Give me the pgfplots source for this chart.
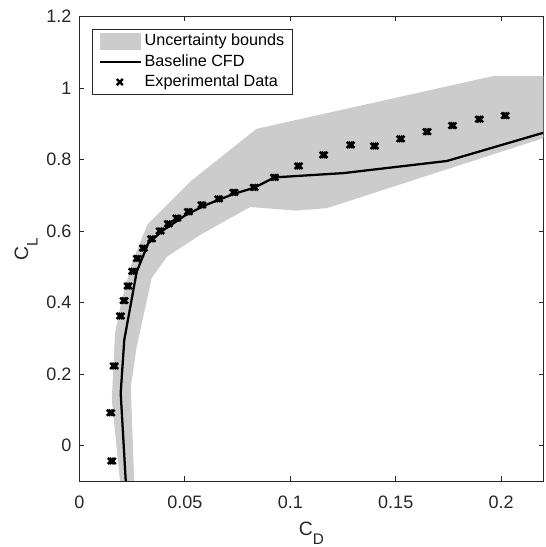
\documentclass[border=0pt]{standalone}
\usepackage{fontspec}
\setmainfont{Liberation Sans}
\usepackage{pgfplots}
\usepackage{pgfplotstable}
\pgfplotsset{compat=1.18}
\definecolor{bandgray}{RGB}{204,204,204}
\definecolor{axgray}{RGB}{38,38,38}
\newcommand\lowsub[1]{\raisebox{-7.2pt}{\fontsize{11.5}{12}\selectfont #1}}

\pgfplotstableread{
cd      cl
0.0154 -0.044
0.0149  0.091
0.0165  0.222
0.0195  0.362
0.0212  0.405
0.0231  0.446
0.0253  0.487
0.0275  0.523
0.0304  0.552
0.0343  0.578
0.0383  0.600
0.0422  0.620
0.0462  0.636
0.0517  0.654
0.0581  0.673
0.0660  0.690
0.0733  0.708
0.0829  0.722
0.0925  0.750
0.1039  0.782
0.1158  0.813
0.1286  0.841
0.1399  0.838
0.1523  0.858
0.1648  0.878
0.1769  0.895
0.1896  0.913
0.2019  0.923
}\expdata

\begin{document}
\fontsize{13.5}{16}\selectfont
\begin{tikzpicture}
\begin{axis}[
  scale only axis,
  width=348pt, height=348.2pt,
  xmin=0, xmax=0.22, ymin=-0.1, ymax=1.2,
  xtick={0,0.05,0.1,0.15,0.2},
  xticklabels={0,0.05,0.1,0.15,0.2},
  ytick={0,0.2,0.4,0.6,0.8,1,1.2},
  yticklabels={0,0.2,0.4,0.6,0.8,1,1.2},
  tick align=inside,
  major tick length=3.6pt,
  axis line style={draw=axgray, line width=0.5pt},
  every tick/.style={draw=axgray, line width=0.5pt},
  ticklabel style={text=axgray, font=\fontsize{13.5}{16}\selectfont},
  xticklabel style={yshift=-6.5pt},
  yticklabel style={xshift=-1.2pt},
  xlabel={C\lowsub{D}},
  ylabel={C\lowsub{L}},
  label style={text=axgray, font=\fontsize{14.5}{16}\selectfont},
  xlabel style={at={(axis description cs:0.5,-0.1164)}, anchor=base},
  ylabel style={at={(axis description cs:-0.1106,0.5)}, anchor=base},
  legend cell align=left,
  legend style={
    at={(axis description cs:0.028,0.973)}, anchor=north west,
    draw=axgray, line width=0.5pt, fill=white,
    font=\fontsize{12.15}{14}\selectfont, text=black,
    inner xsep=4.8pt, inner ysep=2.5pt,
    nodes={inner sep=1pt}, column sep=0.75pt, row sep=2.4pt,
  },
]
% uncertainty band
\addplot[fill=bandgray, draw=none,
  legend image code/.code={\fill[bandgray] (0pt,-6.4pt) rectangle (30.75pt,6.4pt);}]
  coordinates {
  (0.0193,-0.1) (0.0154,0.127) (0.0169,0.314) (0.0201,0.407) (0.0249,0.510)
  (0.0323,0.618) (0.0525,0.738) (0.0840,0.886) (0.1964,1.034) (0.2200,1.034)
  (0.2200,0.860) (0.1174,0.664) (0.1031,0.657) (0.0810,0.667) (0.0573,0.589)
  (0.0415,0.528) (0.0343,0.468) (0.0272,0.276) (0.0244,0.164) (0.0260,-0.1)
  } -- cycle;
\addlegendentry{Uncertainty bounds}
% baseline CFD
\addplot[black, line width=1.7pt, no marks,
  legend image code/.code={\draw[black, line width=1.7pt] (0pt,0pt) -- (30.75pt,0pt);}]
  coordinates {
  (0.0220,-0.1) (0.0196,0.146) (0.0213,0.295) (0.0272,0.486) (0.0327,0.566)
  (0.0400,0.603) (0.0500,0.643) (0.0600,0.673) (0.0733,0.704) (0.0829,0.721)
  (0.0925,0.750) (0.1252,0.762) (0.1743,0.796) (0.2200,0.875)
  };
\addlegendentry{Baseline CFD}
% experimental data (two slightly offset passes give the heavy marker look)
\addplot[only marks, mark=x, mark size=3.2pt, line width=1.8pt, black,
  mark options={xshift=-0.7pt},
  legend image code/.code={\draw[black, line width=1.8pt, mark=x, mark size=3.2pt] plot[only marks] coordinates {(15.4pt,0pt)};}]
  table[x=cd, y=cl] {\expdata};
\addlegendentry{Experimental Data}
\addplot[only marks, mark=x, mark size=3.2pt, line width=1.8pt, black,
  mark options={xshift=0.7pt}, forget plot]
  table[x=cd, y=cl] {\expdata};
\end{axis}
\pgfresetboundingbox
\path[use as bounding box] (current axis.south west) ++(-59.5pt,-49.5pt)
  rectangle ([shift={(1.3pt,12.5pt)}]current axis.north east);
\end{tikzpicture}
\end{document}
